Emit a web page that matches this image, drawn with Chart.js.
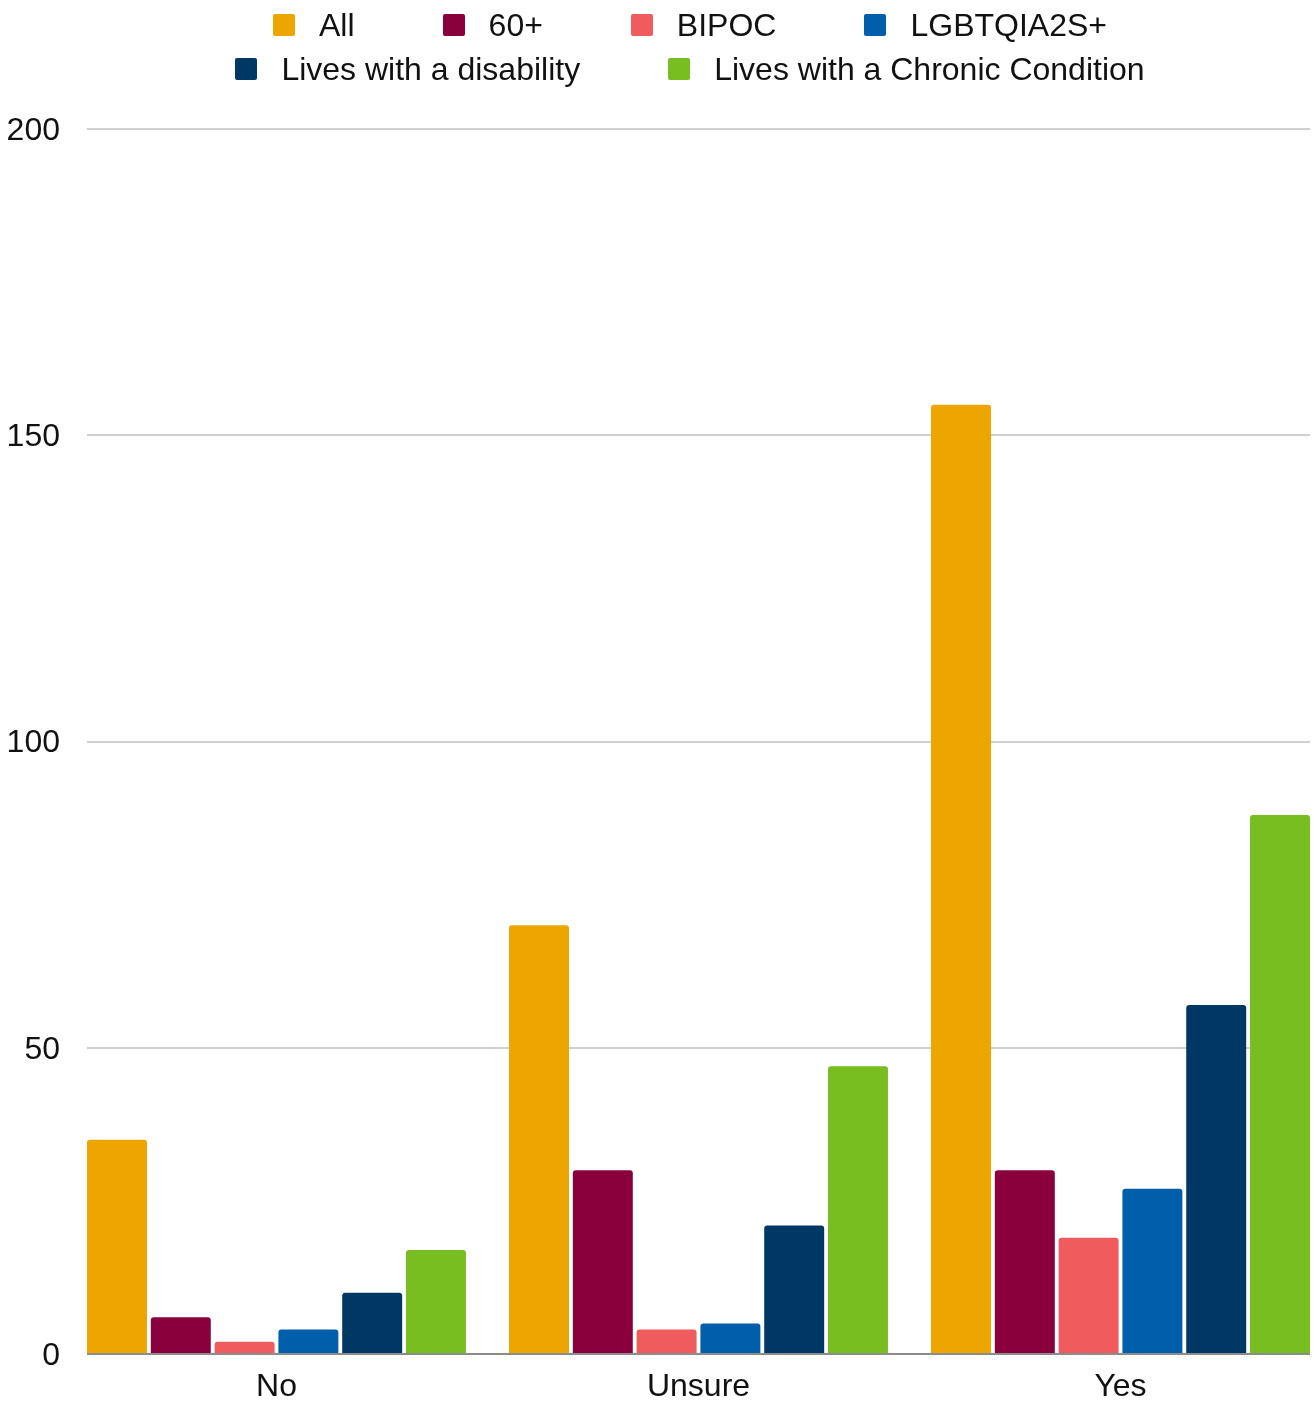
<!DOCTYPE html>
<html>
<head>
<meta charset="utf-8">
<script src="https://cdn.jsdelivr.net/npm/chart.js@4"></script>
<style>
  body { margin: 0; background: #fff; font-family: "Liberation Sans", Arial, sans-serif; }
  #wrap { position: relative; width: 1314px; height: 1402px; }
  #legend { position: absolute; top: 3px; left: 66px; width: 1248px; }
  .row { display: flex; justify-content: center; align-items: center; height: 44px; }
  .item { display: flex; align-items: center; margin: 0 44px; font-size: 32px; color: #111; white-space: nowrap; }
  .box { width: 22px; height: 22px; border-radius: 2px; margin-right: 24px; }
</style>
</head>
<body>
<div id="wrap">
  <canvas id="chart" width="1314" height="1402"></canvas>
  <div id="legend"></div>
</div>
<script>
const categories = ['No', 'Unsure', 'Yes'];
const seriesNames = ['All', '60+', 'BIPOC', 'LGBTQIA2S+', 'Lives with a disability', 'Lives with a Chronic Condition'];
const seriesColors = ['#eda500', '#8a003c', '#f05c5e', '#005eaa', '#003865', '#78be20'];
const allValues = [35, 70, 155];
const over60Values = [6, 30, 30];
const bipocValues = [2, 4, 19];
const lgbtqValues = [4, 5, 27];
const disabilityValues = [10, 21, 57];
const chronicValues = [17, 47, 88];
const yTicks = [0, 50, 100, 150, 200];

const seriesValues = [allValues, over60Values, bipocValues, lgbtqValues, disabilityValues, chronicValues];

// legend rows like the original: 4 on top, 2 below
const legendRows = [[0, 1, 2, 3], [4, 5]];
const legend = document.getElementById('legend');
legendRows.forEach(row => {
    const r = document.createElement('div');
    r.className = 'row';
    row.forEach(i => {
        const it = document.createElement('div');
        it.className = 'item';
        const b = document.createElement('span');
        b.className = 'box';
        b.style.background = seriesColors[i];
        it.appendChild(b);
        it.appendChild(document.createTextNode(seriesNames[i]));
        r.appendChild(it);
    });
    legend.appendChild(r);
});

const datasets = seriesValues.map((vals, i) => ({
    label: seriesNames[i],
    data: vals.map((v, j) => ({x: j, y: v})),
    backgroundColor: seriesColors[i],
    borderRadius: 3,
    borderSkipped: 'bottom',
    categoryPercentage: 0.907,
    barPercentage: 0.94
}));

const font = { family: '"Liberation Sans", Arial, sans-serif', size: 32 };

const ctx = document.getElementById('chart');
new Chart(ctx, {
    type: 'bar',
    data: { datasets: datasets },
    options: {
        responsive: false,
        animation: false,
        layout: { padding: { top: 129, left: 7, right: 4, bottom: 0 } },
        plugins: {
            legend: { display: false },
            tooltip: { enabled: false }
        },
        scales: {
            x: {
                type: 'linear',
                offset: false,
                min: -0.449,
                max: 2.449,
                grid: { display: false, drawTicks: false },
                border: { display: false },
                afterFit: s => { s.height = 48; },
                ticks: {
                    stepSize: 1,
                    includeBounds: false,
                    autoSkip: false,
                    maxRotation: 0,
                    padding: 16,
                    color: '#111',
                    font: Object.assign({ lineHeight: 1.1 }, font),
                    callback: v => Number.isInteger(v) ? categories[v] : ''
                }
            },
            y: {
                min: 0,
                max: 200,
                afterBuildTicks: scale => { scale.ticks = yTicks.map(v => ({value: v})); },
                afterFit: s => { s.width = 80; },
                grid: {
                    drawTicks: false,
                    lineWidth: 2,
                    color: c => c.tick && c.tick.value === 0 ? '#8c8c8c' : '#d0d0d0'
                },
                border: { display: false },
                ticks: {
                    padding: 27,
                    labelOffset: 2,
                    color: '#111',
                    font: font
                }
            }
        }
    }
});
</script>
</body>
</html>
